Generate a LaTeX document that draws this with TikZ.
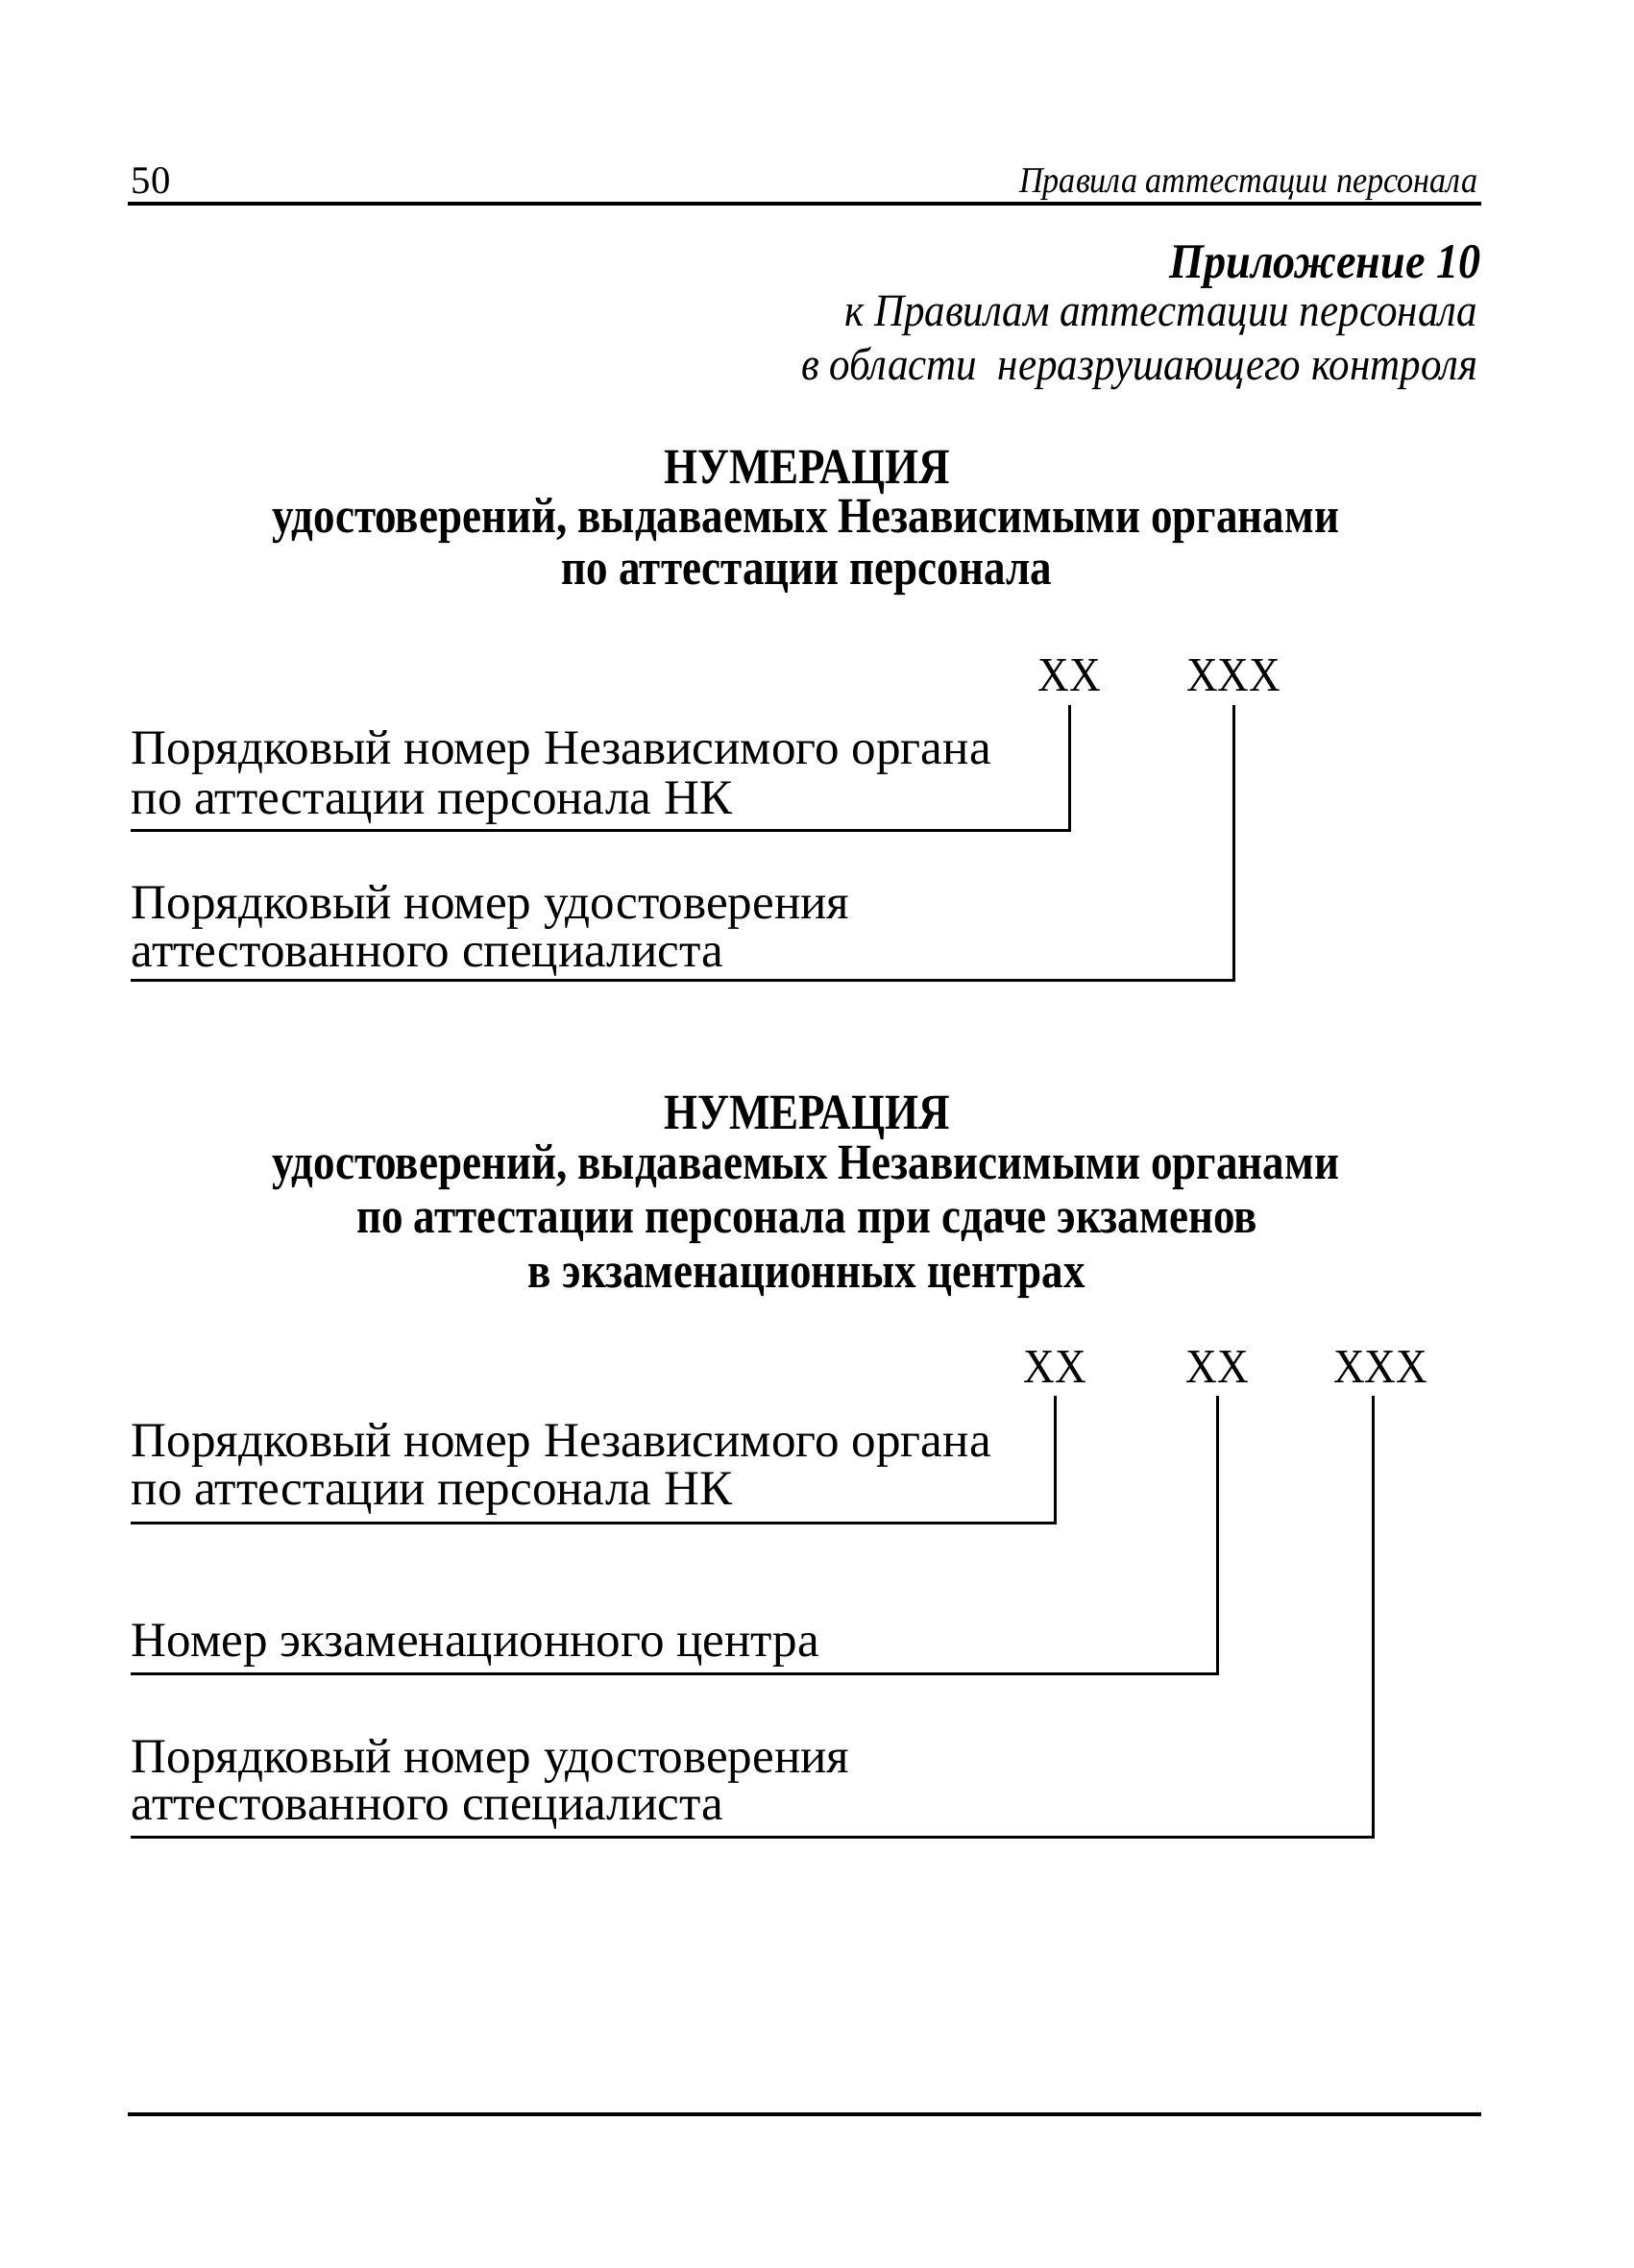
\documentclass[tikz,border=0pt]{standalone}
\usepackage{fontspec}
\setmainfont{Liberation Serif}
\newfontfamily\ttlfont[FakeStretch=0.86]{Liberation Serif}
\newfontfamily\sidefont[FakeStretch=0.9]{Liberation Serif}
\newfontfamily\codefont[FakeStretch=0.9]{Liberation Serif}
\usepackage{tikz}
\usetikzlibrary{calc, positioning}

\tikzset{
  txt/.style={anchor=base west, inner sep=0pt, font=\fontsize{14.55}{17}\selectfont},
  code/.style={anchor=base, inner sep=0pt, font=\codefont\fontsize{14.3}{17}\selectfont},
  ttl/.style={anchor=base, inner sep=0pt, font=\ttlfont\bfseries\fontsize{14.9}{17}\selectfont},
  side/.style={anchor=base east, inner sep=0pt, font=\sidefont\itshape\fontsize{13.6}{16}\selectfont},
  link/.style={line width=0.85pt},
  rule/.style={line width=0.9pt}
}

\begin{document}
\begin{tikzpicture}
    \useasboundingbox (0,0) rectangle (17,-23.61);
    % Колонтитул
    \node[anchor=base west, inner sep=0pt, font=\fontsize{11.6}{13}\selectfont] (pagenum) at (1.36,-2.01) {50};
    \node[anchor=base east, inner sep=0pt, font=\sidefont\itshape\fontsize{10.8}{13}\selectfont] (running) at (15.39,-2.00) {Правила аттестации персонала};
    \draw[rule] (1.33,-2.12) -- (15.42,-2.12);

    \node[side, font=\sidefont\bfseries\itshape\fontsize{14.6}{17}\selectfont] (app) at (15.42,-2.89) {Приложение 10};
    \node[side] (app2) at (15.39,-3.39) {к Правилам аттестации персонала};
    \node[side] (app3) at (15.39,-3.95) {в области\ \ неразрушающего контроля};

    % Первая нумерация
    \node[ttl] (t1a) at (8.40,-5.03) {НУМЕРАЦИЯ};
    \node[ttl] (t1b) at (8.39,-5.54) {удостоверений, выдаваемых Независимыми органами};
    \node[ttl] (t1c) at (8.40,-6.08) {по аттестации персонала};

    \node[code] (c1a) at (11.13,-7.19) {XX};
    \node[code] (c1b) at (12.84,-7.19) {XXX};

    \node[txt] (d1a) at (1.36,-7.95) {Порядковый номер Независимого органа};
    \node[txt] (d1b) at (1.36,-8.47) {по аттестации персонала НК};
    \coordinate (u1a) at (1.36,-8.64);
    \node[txt] (d1c) at (1.36,-9.56) {Порядковый номер удостоверения};
    \node[txt] (d1d) at (1.36,-10.06) {аттестованного специалиста};
    \coordinate (u1b) at (1.36,-10.20);

    \draw[link] ([yshift=-1.5mm]c1a.base) -- (c1a.base |- u1a) -- (u1a);
    \draw[link] ([yshift=-1.5mm]c1b.base) -- (c1b.base |- u1b) -- (u1b);

    % Вторая нумерация
    \node[ttl] (t2a) at (8.40,-11.75) {НУМЕРАЦИЯ};
    \node[ttl] (t2b) at (8.39,-12.27) {удостоверений, выдаваемых Независимыми органами};
    \node[ttl] (t2c) at (8.40,-12.83) {по аттестации персонала при сдаче экзаменов};
    \node[ttl] (t2d) at (8.40,-13.40) {в экзаменационных центрах};

    \node[code] (c2a) at (10.98,-14.39) {XX};
    \node[code] (c2b) at (12.67,-14.39) {XX};
    \node[code] (c2c) at (14.37,-14.39) {XXX};

    \node[txt] (d2a) at (1.36,-15.16) {Порядковый номер Независимого органа};
    \node[txt] (d2b) at (1.36,-15.66) {по аттестации персонала НК};
    \coordinate (u2a) at (1.36,-15.85);
    \node[txt] (d2c) at (1.36,-17.24) {Номер экзаменационного центра};
    \coordinate (u2b) at (1.36,-17.42);
    \node[txt] (d2d) at (1.36,-18.45) {Порядковый номер удостоверения};
    \node[txt] (d2e) at (1.36,-18.94) {аттестованного специалиста};
    \coordinate (u2c) at (1.36,-19.12);

    \draw[link] ([yshift=-1.4mm]c2a.base) -- (c2a.base |- u2a) -- (u2a);
    \draw[link] ([yshift=-1.4mm]c2b.base) -- (c2b.base |- u2b) -- (u2b);
    \draw[link] ([xshift=-0.8mm, yshift=-1.4mm]c2c.base) -- ([xshift=-0.8mm]c2c.base |- u2c) -- (u2c);

    % Нижняя линейка
    \draw[rule] (1.33,-22.01) -- (15.42,-22.01);
\end{tikzpicture}
\end{document}
